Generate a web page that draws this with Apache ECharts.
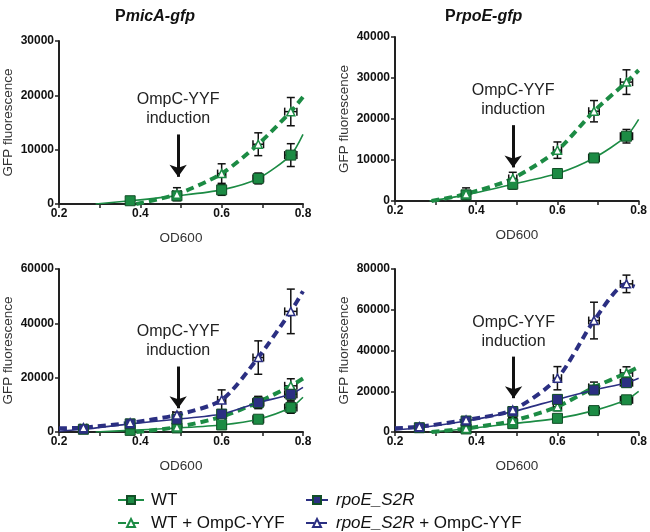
<!DOCTYPE html>
<html>
<head>
<meta charset="utf-8">
<script src="https://cdn.jsdelivr.net/npm/echarts@6/dist/echarts.min.js"></script>
<style>
  html, body { margin: 0; padding: 0; background: #fff; }
  #chart { width: 650px; height: 532px; }
</style>
</head>
<body>
<div id="chart"></div>
<script>
  // OD600 sampling points and their (horizontal) error
  const od = [0.26, 0.375, 0.49, 0.6, 0.69, 0.77]
  const odErr = [0.008, 0.008, 0.01, 0.01, 0.013, 0.015]

  // PmicA-gfp
  const micaWT = [null, 600, 1500, 2600, 4700, 9000]
  const micaWTErr = [0, 300, 500, 1000, 1000, 2100]
  const micaWTOmp = [null, null, 1800, 5600, 11000, 17000]
  const micaWTOmpErr = [0, 0, 1200, 1800, 2100, 2600]
  const micaS2R = [1000, 3000, 4700, 6600, 10800, 13900]
  const micaS2RErr = [300, 800, 800, 1500, 2200, 2200]
  const micaS2ROmp = [1600, 3400, 6300, 11800, 27400, 44400]
  const micaS2ROmpErr = [500, 800, 1000, 3700, 6150, 8200]

  // PrpoE-gfp
  const rpoeWT = [null, 1500, 4100, 6700, 10500, 15800]
  const rpoeWTErr = [0, 600, 1200, 700, 700, 1650]
  const rpoeWTOmp = [null, 1700, 5500, 12400, 21900, 29000]
  const rpoeWTOmpErr = [0, 1500, 1500, 2000, 2600, 3000]
  const rpoeS2R = [2100, 5400, 10000, 16000, 20600, 24200]
  const rpoeS2RErr = [500, 1000, 1500, 2000, 2000, 2000]
  const rpoeS2ROmp = [2600, 5900, 10800, 26400, 54700, 72700]
  const rpoeS2ROmpErr = [500, 1000, 1500, 5700, 9000, 4300]

  // ends of the fitted curves [start, end]
  const micaWTEnds = [[0.29, 0], [0.8, 12800]]
  const micaWTOmpEnds = [[0.39, 0], [0.8, 19700]]
  const rpoeWTEnds = [[0.285, 0], [0.8, 19900]]
  const rpoeWTOmpEnds = [[0.29, 0], [0.8, 31900]]
  const micaS2REnds = [[0.2, 300], [0.8, 16400]]
  const micaS2ROmpEnds = [[0.2, 1350], [0.8, 51800]]
  const rpoeS2REnds = [[0.2, 1000], [0.8, 26400]]
  const rpoeS2ROmpEnds = [[0.2, 1800], [0.79, 71400]]

  // induction arrow per panel: [x, top, tip]
  const arrowPos = [[0.493, 12800, 5000], [0.491, 18500, 8200], [0.493, 24100, 8750], [0.492, 37000, 16600]]

  const yMax = [30000, 40000, 60000, 80000]
  const yStep = [10000, 10000, 20000, 20000]
  const titles = ['micA-gfp', 'rpoE-gfp']

  const FONT = 'Liberation Sans, Arial, sans-serif'
  const GREEN = '#1c8b44'
  const NAVY = '#2b2f82'

  const grids = [
    {left: 58, top: 41, width: 245, height: 163},
    {left: 395, top: 37, width: 244, height: 164},
    {left: 58, top: 269, width: 245, height: 163},
    {left: 395, top: 269, width: 244, height: 163}
  ]

  const styles = {
    'WT': {color: GREEN, symbol: 'rect', size: 10, dashed: false},
    'WT + OmpC-YYF': {color: GREEN, symbol: 'triangle', size: 8, dashed: true},
    'rpoE_S2R': {color: NAVY, symbol: 'rect', size: 10, dashed: false},
    'rpoE_S2R + OmpC-YYF': {color: NAVY, symbol: 'triangle', size: 8, dashed: true}
  }

  function lineSeries (p, name, ys, ends) {
    const st = styles[name]
    const data = [{value: ends[0], symbol: 'none'}]
    od.forEach((x, i) => { if (ys[i] != null) data.push([x, ys[i]]) })
    data.push({value: ends[1], symbol: 'none'})
    return {
      type: 'line', name: name, xAxisIndex: p, yAxisIndex: p, data: data,
      smooth: 0.25, z: 3, animation: false,
      symbol: st.symbol, symbolSize: st.size,
      itemStyle: st.dashed
        ? {color: '#fff', borderColor: st.color, borderWidth: 1.5}
        : {color: st.color, borderColor: '#124f27', borderWidth: 1},
      lineStyle: st.dashed
        ? {color: st.color, width: 4, type: [8, 5]}
        : {color: st.color, width: 1.6},
      emphasis: {disabled: true}
    }
  }

  function errSeries (p, ys, errs) {
    const data = []
    od.forEach((x, i) => { if (ys[i] != null) data.push([x, ys[i], odErr[i], errs[i]]) })
    return {
      type: 'custom', xAxisIndex: p, yAxisIndex: p, data: data, z: 2, silent: true,
      encode: {x: 0, y: 1}, animation: false,
      renderItem: function (params, api) {
        const x = api.value(0), y = api.value(1), dx = api.value(2), dy = api.value(3)
        const c = api.coord([x, y])
        const top = api.coord([x, y + dy])[1]
        const bot = api.coord([x, y - dy])[1]
        const l = api.coord([x - dx, y])[0]
        const r = api.coord([x + dx, y])[0]
        const cap = 4
        const style = {stroke: '#111', lineWidth: 1.5}
        const seg = (x1, y1, x2, y2) => ({type: 'line', shape: {x1, y1, x2, y2}, style})
        const kids = [
          seg(l, c[1], r, c[1]), seg(l, c[1] - cap, l, c[1] + cap), seg(r, c[1] - cap, r, c[1] + cap)
        ]
        if (dy > 0) {
          kids.push(seg(c[0], top, c[0], bot), seg(c[0] - cap, top, c[0] + cap, top), seg(c[0] - cap, bot, c[0] + cap, bot))
        }
        return {type: 'group', children: kids}
      }
    }
  }

  function arrowMark (p) {
    const a = arrowPos[p]
    return {
      silent: true, animation: false,
      symbol: ['none', 'arrow'], symbolSize: [13, 12],
      lineStyle: {color: '#111', width: 3, type: 'solid'},
      label: {
        show: true, position: 'start', distance: 6,
        formatter: 'OmpC-YYF\ninduction',
        fontFamily: FONT, fontSize: 16, lineHeight: 19, color: '#222'
      },
      data: [[{coord: [a[0], a[1]]}, {coord: [a[0], a[2]]}]]
    }
  }

  const panels = [
    [['WT', micaWT, micaWTErr, micaWTEnds], ['WT + OmpC-YYF', micaWTOmp, micaWTOmpErr, micaWTOmpEnds]],
    [['WT', rpoeWT, rpoeWTErr, rpoeWTEnds], ['WT + OmpC-YYF', rpoeWTOmp, rpoeWTOmpErr, rpoeWTOmpEnds]],
    [['WT', micaWT, micaWTErr, micaWTEnds], ['WT + OmpC-YYF', micaWTOmp, micaWTOmpErr, micaWTOmpEnds],
      ['rpoE_S2R', micaS2R, micaS2RErr, micaS2REnds], ['rpoE_S2R + OmpC-YYF', micaS2ROmp, micaS2ROmpErr, micaS2ROmpEnds]],
    [['WT', rpoeWT, rpoeWTErr, rpoeWTEnds], ['WT + OmpC-YYF', rpoeWTOmp, rpoeWTOmpErr, rpoeWTOmpEnds],
      ['rpoE_S2R', rpoeS2R, rpoeS2RErr, rpoeS2REnds], ['rpoE_S2R + OmpC-YYF', rpoeS2ROmp, rpoeS2ROmpErr, rpoeS2ROmpEnds]]
  ]

  const series = []
  panels.forEach((groups, p) => {
    groups.forEach((g, k) => {
      series.push(errSeries(p, g[1], g[2]))
      const s = lineSeries(p, g[0], g[1], g[3])
      if (k === 0) s.markLine = arrowMark(p)
      series.push(s)
    })
  })

  const axisCommon = {
    axisLine: {lineStyle: {color: '#222', width: 2}},
    axisTick: {show: true, inside: false, length: 4, lineStyle: {color: '#222', width: 1.5}},
    splitLine: {show: false},
    nameTextStyle: {fontFamily: FONT, fontSize: 13.5, color: '#333'}
  }

  const xAxis = grids.map((g, i) => Object.assign({}, axisCommon, {
    type: 'value', gridIndex: i, min: 0.2, max: 0.8, interval: 0.2,
    minorTick: {show: true, splitNumber: 2, length: 4, lineStyle: {color: '#222', width: 1.5}},
    name: 'OD600', nameLocation: 'middle', nameGap: 27,
    axisLabel: {fontFamily: FONT, fontSize: 12, fontWeight: 'bold', color: '#111', margin: 4}
  }))

  const yAxis = grids.map((g, i) => Object.assign({}, axisCommon, {
    type: 'value', gridIndex: i, min: 0, max: yMax[i], interval: yStep[i],
    name: 'GFP fluorescence', nameLocation: 'middle', nameGap: 44,
    axisLabel: {fontFamily: FONT, fontSize: 12, fontWeight: 'bold', color: '#111', margin: 5,
      formatter: v => String(v)}
  }))

  const titleRich = {
    a: {fontFamily: FONT, fontSize: 16, fontWeight: 'bold', color: '#111'},
    b: {fontFamily: FONT, fontSize: 16, fontWeight: 'bold', fontStyle: 'italic', color: '#111'}
  }

  const legendText = {
    fontFamily: FONT, fontSize: 17, color: '#111', lineHeight: 20,
    rich: {i: {fontFamily: FONT, fontSize: 17, fontStyle: 'italic', color: '#111'}}
  }

  const chart = echarts.init(document.getElementById('chart'), null, {renderer: 'canvas'})
  chart.setOption({
    backgroundColor: '#fff',
    animation: false,
    title: [
      {text: '{a|P}{b|' + titles[0] + '}', left: 110, top: 4, textStyle: {rich: titleRich}},
      {text: '{a|P}{b|' + titles[1] + '}', left: 440, top: 4, textStyle: {rich: titleRich}}
    ],
    grid: grids,
    xAxis: xAxis,
    yAxis: yAxis,
    legend: [
      {
        data: ['WT', 'WT + OmpC-YYF'], orient: 'vertical', left: 117, top: 490, height: 60, padding: 0,
        itemWidth: 26, itemHeight: 10, itemGap: 3, selectedMode: false,
        textStyle: Object.assign({}, legendText, {padding: [0, 0, 0, 2]})
      },
      {
        data: ['rpoE_S2R', 'rpoE_S2R + OmpC-YYF'], orient: 'vertical', left: 305, top: 490, height: 60, padding: 0,
        itemWidth: 22, itemHeight: 10, itemGap: 3, selectedMode: false,
        formatter: name => name.replace('rpoE_S2R', '{i|rpoE_S2R}'),
        textStyle: Object.assign({}, legendText, {padding: [0, 0, 0, 3]})
      }
    ],
    series: series
  })
</script>
</body>
</html>
